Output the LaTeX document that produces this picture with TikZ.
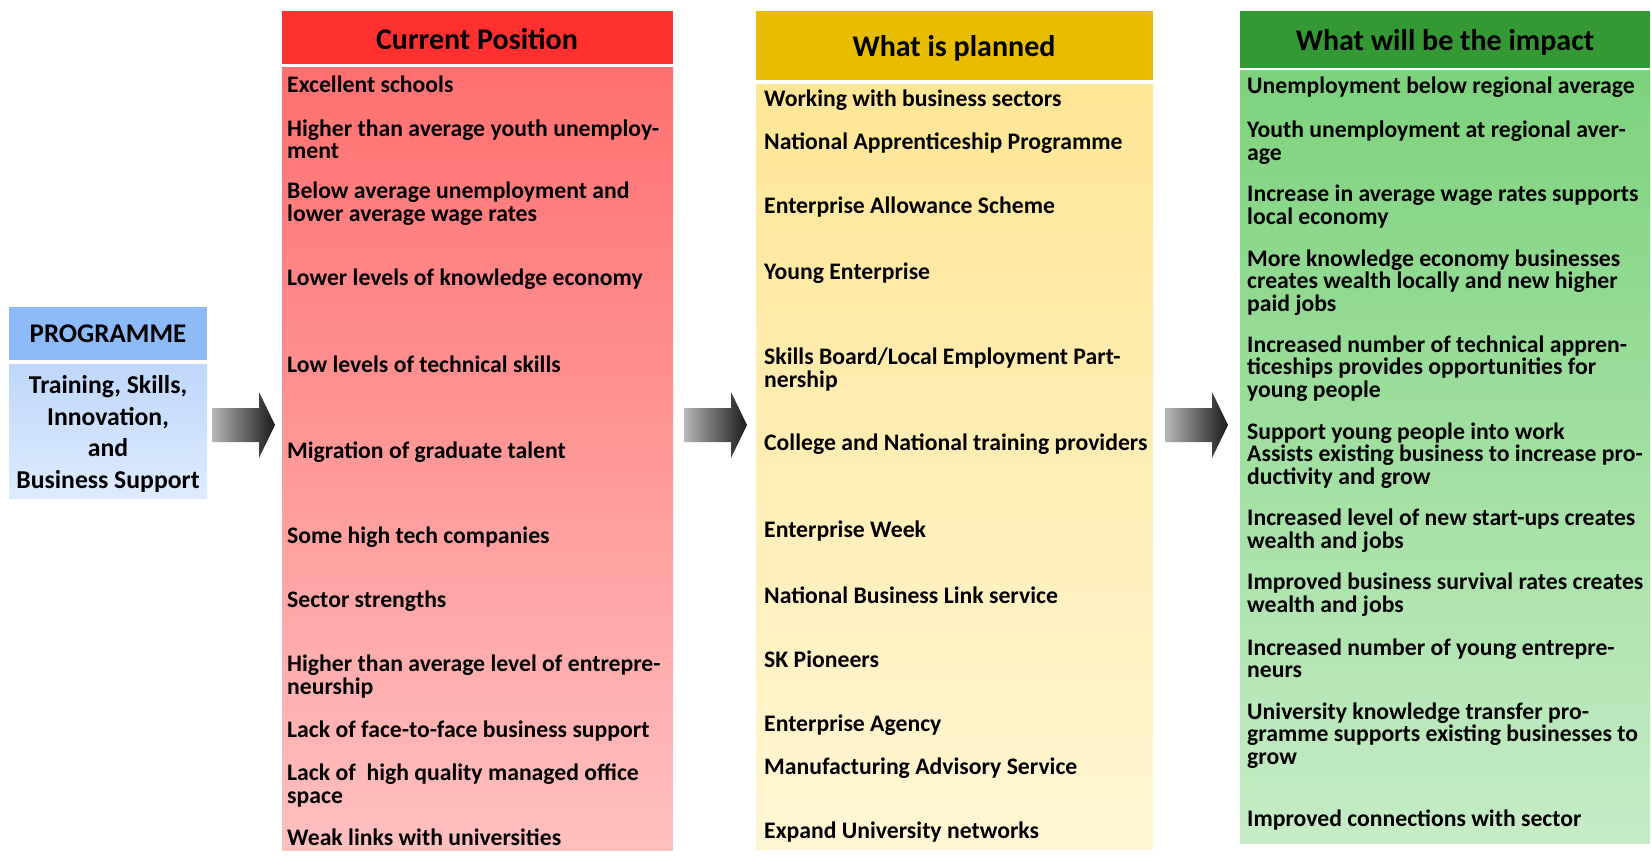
\documentclass[tikz,border=0pt]{standalone}
\usepackage{fontspec}
\setmainfont{Carlito}
\definecolor{redhead}{RGB}{255,48,48}
\definecolor{redtop}{RGB}{255,112,112}
\definecolor{redbot}{RGB}{255,192,192}
\definecolor{yelhead}{RGB}{232,188,0}
\definecolor{yeltop}{RGB}{255,230,150}
\definecolor{yelbot}{RGB}{255,246,212}
\definecolor{grnhead}{RGB}{52,152,52}
\definecolor{grntop}{RGB}{125,210,125}
\definecolor{grnbot}{RGB}{198,236,198}
\definecolor{bluhead}{RGB}{141,187,250}
\definecolor{blutop}{RGB}{190,215,250}
\definecolor{blubot}{RGB}{222,235,255}
\begin{document}
\begin{tikzpicture}[x=1pt,y=-1pt,
  box/.style={draw=none,inner sep=0pt,anchor=north west},
  item/.style={anchor=west,align=left,inner sep=0pt,yshift=-2.5pt,font=\bfseries\fontsize{23.7}{22.5}\selectfont},
  hdrtext/.style={inner sep=0pt,font=\bfseries\fontsize{30}{32}\selectfont},
  progtitle/.style={inner sep=0pt,font=\bfseries\fontsize{27}{30}\selectfont},
  progtext/.style={inner sep=0pt,align=center,font=\bfseries\fontsize{25.7}{31.5}\selectfont},
  flowarrow/.pic={\shade[left color=black!28,right color=black!90]
    (0,-17) -- (47,-17) -- (47,-33) -- (63,0) -- (47,33) -- (47,17) -- (0,17) -- cycle;}]
\useasboundingbox (0,0) rectangle (1651,858);

% programme box
\node[box,fill=bluhead,minimum width=198pt,minimum height=53pt] (proghead) at (9,307) {};
\node[box,top color=blutop,bottom color=blubot,minimum width=198pt,minimum height=134pt] (progbody) at (9,364) {};
\node[progtitle] (progt) at (108,334) {PROGRAMME};
\node[progtext] (progb) at (108,434) {Training, Skills,\\Innovation,\\and\\Business Support};

% arrows
\pic (a1) at (212,425) {flowarrow};
\pic (a2) at (684,425) {flowarrow};
\pic (a3) at (1165,425) {flowarrow};

% current position
\node[box,fill=redhead,minimum width=391pt,minimum height=53pt] (redhead) at (282,11) {};
\node[box,top color=redtop,bottom color=redbot,minimum width=391pt,minimum height=783pt] (redbody) at (282,67) {};
\node[hdrtext] (redt) at (477,39.5) {Current Position};
\node[item] (r1) at (287,82) {Excellent schools};
\node[item] (r2) at (287,137) {Higher than average youth unemploy-\\ment};
\node[item] (r3) at (287,201) {Below average unemployment and\\lower average wage rates};
\node[item] (r4) at (287,277) {Lower levels of knowledge economy};
\node[item] (r5) at (287,362) {Low levels of technical skills};
\node[item] (r6) at (287,450) {Migration of graduate talent};
\node[item] (r7) at (287,535) {Some high tech companies};
\node[item] (r8) at (287,599) {Sector strengths};
\node[item] (r9) at (287,674) {Higher than average level of entrepre-\\neurship};
\node[item] (r10) at (287,729) {Lack of face-to-face business support};
\node[item] (r11) at (287,783) {Lack of\ \ high quality managed office\\space};
\node[item] (r12) at (287,835) {Weak links with universities};

% what is planned
\node[box,fill=yelhead,minimum width=397pt,minimum height=69pt] (yelhead) at (756,11) {};
\node[box,top color=yeltop,bottom color=yelbot,minimum width=397pt,minimum height=765pt] (yelbody) at (756,84) {};
\node[hdrtext] (yelt) at (954,48) {What is planned};
\node[item] (y1) at (764,98) {Working with business sectors};
\node[item] (y2) at (764,141) {National Apprenticeship Programme};
\node[item] (y3) at (764,205) {Enterprise Allowance Scheme};
\node[item] (y4) at (764,271) {Young Enterprise};
\node[item] (y5) at (764,367) {Skills Board/Local Employment Part-\\nership};
\node[item] (y6) at (764,442) {College and National training providers};
\node[item] (y7) at (764,529) {Enterprise Week};
\node[item] (y8) at (764,593) {National Business Link service};
\node[item] (y9) at (764,657) {SK Pioneers};
\node[item] (y10) at (764,723) {Enterprise Agency};
\node[item] (y11) at (764,766) {Manufacturing Advisory Service};
\node[item] (y12) at (764,830) {Expand University networks};

% impact
\node[box,fill=grnhead,minimum width=410pt,minimum height=57pt] (grnhead) at (1240,11) {};
\node[box,top color=grntop,bottom color=grnbot,minimum width=410pt,minimum height=773pt] (grnbody) at (1240,70) {};
\node[hdrtext] (grnt) at (1445,42) {What will be the impact};
\node[item] (g1) at (1247,85) {Unemployment below regional average};
\node[item] (g2) at (1247,140) {Youth unemployment at regional aver-\\age};
\node[item] (g3) at (1247,204) {Increase in average wage rates supports\\local economy};
\node[item] (g4) at (1247,280) {More knowledge economy businesses\\creates wealth locally and new higher\\paid jobs};
\node[item] (g5) at (1247,366) {Increased number of technical appren-\\ticeships provides opportunities for\\young people};
\node[item] (g6) at (1247,453) {Support young people into work\\Assists existing business to increase pro-\\ductivity and grow};
\node[item] (g7) at (1247,528) {Increased level of new start-ups creates\\wealth and jobs};
\node[item] (g8) at (1247,592) {Improved business survival rates creates\\wealth and jobs};
\node[item] (g9) at (1247,656) {Increased number of young entrepre-\\neurs};
\node[item] (g10) at (1247,733) {University knowledge transfer pro-\\gramme supports existing businesses to\\grow};
\node[item] (g11) at (1247,818) {Improved connections with sector};
\end{tikzpicture}
\end{document}
